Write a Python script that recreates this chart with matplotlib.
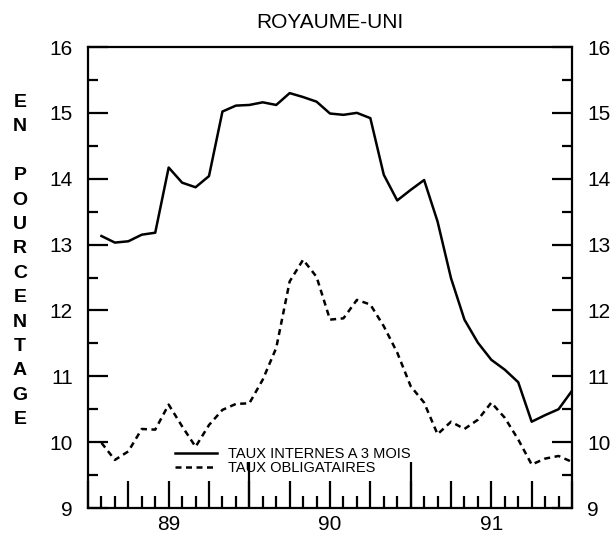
import matplotlib
matplotlib.use("Agg")
import matplotlib.pyplot as plt
from matplotlib.ticker import FixedLocator, MultipleLocator

plt.rcParams["font.family"] = ["Liberation Sans", "DejaVu Sans"]

# mois depuis janvier 1989 (fin de mois)
mois = list(range(1, 37))
taux_internes = [13.13, 13.03, 13.05, 13.15, 13.18, 14.17, 13.94, 13.87, 14.04,
                 15.02, 15.11, 15.12, 15.16, 15.12, 15.30, 15.24, 15.17, 14.99,
                 14.97, 15.00, 14.92, 14.06, 13.67, 13.83, 13.98, 13.35, 12.49,
                 11.86, 11.51, 11.25, 11.10, 10.91, 10.31, 10.41, 10.50, 10.78]
taux_oblig = [9.99, 9.73, 9.86, 10.20, 10.19, 10.57, 10.24, 9.93, 10.26,
              10.49, 10.58, 10.59, 10.95, 11.43, 12.44, 12.77, 12.51, 11.86,
              11.88, 12.16, 12.09, 11.76, 11.36, 10.85, 10.60, 10.12, 10.31,
              10.20, 10.34, 10.60, 10.37, 10.04, 9.66, 9.75, 9.79, 9.70]
annees = ["89", "90", "91"]
label_y = "EN POURCENTAGE"

W, H = 614, 537
fig = plt.figure(figsize=(W / 100, H / 100), dpi=100)
ax = fig.add_axes([88 / W, 1 - 508 / H, (572 - 88) / W, (508 - 47) / H])

ax.plot(mois, taux_internes, color="black", lw=1.8,
        label="TAUX INTERNES A 3 MOIS")
ax.plot(mois, taux_oblig, color="black", lw=1.8, dashes=(2.4, 1.8),
        label="TAUX OBLIGATAIRES")

ax.set_xlim(0, 36)
ax.set_ylim(9, 16)
for s in ax.spines.values():
    s.set_linewidth(1.6)

# axe des y, graduations des deux cotes
ax.yaxis.set_major_locator(MultipleLocator(1))
ax.yaxis.set_minor_locator(MultipleLocator(0.5))
ax.tick_params(axis="y", which="both", direction="in", left=True, right=True,
               labelleft=True, labelright=True, width=1.6, labelsize=15)
ax.tick_params(axis="y", which="major", length=14.5, pad=11)
ax.tick_params(axis="y", which="minor", length=7.2)

# axe des x : mois, trimestres, annees
ax.xaxis.set_major_locator(FixedLocator(list(range(0, 37, 3))))
ax.xaxis.set_minor_locator(FixedLocator(list(range(0, 37))))
ax.tick_params(axis="x", which="major", direction="in", length=19.5,
               width=1.6, labelbottom=False)
ax.tick_params(axis="x", which="minor", direction="in", length=8.8, width=1.6)

sec = ax.secondary_xaxis("bottom")
sec.set_xticks([12, 24])
sec.tick_params(direction="in", length=33, width=1.6, labelbottom=False)
sec.spines["bottom"].set_visible(False)

sec2 = ax.secondary_xaxis("bottom")
sec2.set_xticks([6, 18, 30], labels=annees)
sec2.tick_params(length=0, pad=5, labelsize=15)
sec2.spines["bottom"].set_visible(False)

ax.set_title("ROYAUME-UNI", fontsize=15, pad=14)

# etiquette verticale, une lettre par ligne
for i, ch in enumerate(label_y):
    fig.text(20 / W, 1 - (102.5 + 24.4 * i) / H, ch, ha="center", va="center",
             fontsize=14, fontweight="bold")

ax.legend(loc="lower left", bbox_to_anchor=(0.18, 0.072), frameon=False,
          fontsize=10.5, handlelength=2.9, handletextpad=0.75,
          labelspacing=0.0, borderpad=0, borderaxespad=0)

fig.savefig("out.png", dpi=100)
